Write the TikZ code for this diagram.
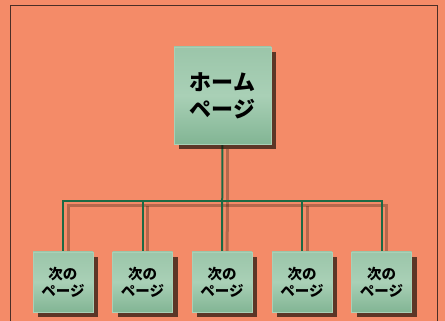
\documentclass[tikz,border=0pt]{standalone}
\usepackage{fontspec}
\newfontfamily\cjk{Noto Sans CJK JP}
\usetikzlibrary{shadows}
\pgfdeclarelayer{canvas}
\pgfdeclarelayer{background}
\pgfsetlayers{canvas,background,main}
\definecolor{bgsalmon}{HTML}{F48B68}
\definecolor{framegray}{HTML}{4A2E26}
\definecolor{linegreen}{HTML}{1B6A44}
\definecolor{boxgreen}{HTML}{90BFA0}
\definecolor{boxlight}{HTML}{A9D0B6}
\definecolor{boxdark}{HTML}{82B594}
\tikzset{
  x=1pt,y=1pt,
  pagebox/.style={draw=boxlight, line width=0.5pt, inner sep=0pt,
    top color=boxgreen!90!white, bottom color=boxdark, middle color=boxlight,
    drop shadow={shadow xshift=5pt, shadow yshift=-5pt, fill=black!85!brown, opacity=0.7},
    align=center, text=black},
  homebox/.style={pagebox, minimum width=97pt, minimum height=97pt, font=\cjk\bfseries\fontsize{22}{27}\selectfont},
  childbox/.style={pagebox, minimum width=60pt, minimum height=60pt, font=\cjk\bfseries\fontsize{14.5}{17}\selectfont},
  link/.style={draw=linegreen, line width=2pt},
  linkshadow/.style={draw=black!80!brown, opacity=0.3, line width=3pt}
}
\begin{document}
\begin{tikzpicture}
\useasboundingbox (0,0) rectangle (445,321);
\begin{pgfonlayer}{canvas}
\fill[bgsalmon] (0,0) rectangle (445,321);
\draw[framegray, line width=0.9pt] (10,-5) -- (10,316) -- (437,316) -- (437,-5);
\end{pgfonlayer}
% nodes
\node[homebox] (home) at (222.5,225.5) {ホーム\\ページ};
\node[childbox] (c1) at (63,39) {次の\\ページ};
\node[childbox] (c2) at (142.5,39) {次の\\ページ};
\node[childbox] (c3) at (222,39) {次の\\ページ};
\node[childbox] (c4) at (302,39) {次の\\ページ};
\node[childbox] (c5) at (381.5,39) {次の\\ページ};
\coordinate (hub) at (222.5,120);
\begin{pgfonlayer}{background}
  \begin{scope}[transform canvas={xshift=5pt,yshift=-5pt}]
    \draw[linkshadow] (home.south) -- (hub);
    \draw[linkshadow] (c1.north) |- (c5.north |- hub) -- (c5.north);
    \draw[linkshadow] (c2.north) -- (c2.north |- hub);
    \draw[linkshadow] (c3.north) -- (hub);
    \draw[linkshadow] (c4.north) -- (c4.north |- hub);
  \end{scope}
  \draw[link] (home.south) -- (c3.north);
  \draw[link] (c1.north) |- (c5.north |- hub) -- (c5.north);
  \draw[link] (c2.north) -- (c2.north |- hub);
  \draw[link] (c4.north) -- (c4.north |- hub);
\end{pgfonlayer}
\end{tikzpicture}
\end{document}
